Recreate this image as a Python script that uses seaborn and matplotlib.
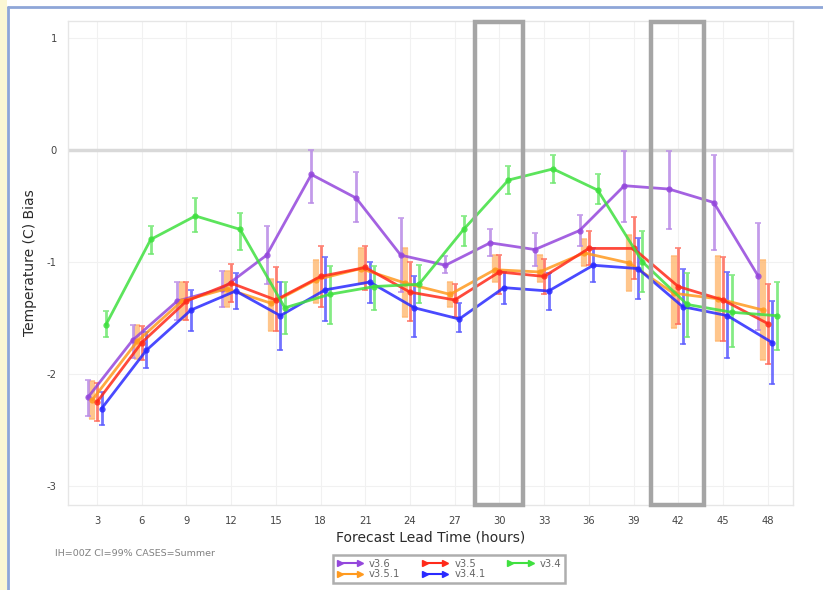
import numpy as np
import pandas as pd
import matplotlib
matplotlib.use("Agg")
import matplotlib.pyplot as plt
import seaborn as sns
from matplotlib.lines import Line2D
from matplotlib.patches import Rectangle
import matplotlib.transforms as mtransforms

leads = [3, 6, 9, 12, 15, 18, 21, 24, 27, 30, 33, 36, 39, 42, 45, 48]
series_names = ["v3.6", "v3.5.1", "v3.5", "v3.4.1", "v3.4"]

v36_mean = [-2.21, -1.70, -1.35, -1.24, -0.94, -0.22, -0.43, -0.94, -1.03, -0.83, -0.89, -0.72, -0.32, -0.35, -0.47, -1.13]
v36_lo = [-2.38, -1.86, -1.52, -1.40, -1.20, -0.47, -0.64, -1.27, -1.10, -0.95, -1.04, -0.86, -0.64, -0.71, -0.89, -1.61]
v36_hi = [-2.05, -1.56, -1.18, -1.08, -0.68, 0.00, -0.20, -0.61, -0.95, -0.71, -0.74, -0.58, -0.01, -0.01, -0.05, -0.65]

v351_mean = [-2.23, -1.71, -1.35, -1.24, -1.37, -1.16, -1.06, -1.19, -1.29, -1.07, -1.09, -0.92, -1.01, -1.28, -1.33, -1.43]
v351_lo = [-2.40, -1.87, -1.52, -1.40, -1.62, -1.37, -1.20, -1.49, -1.40, -1.18, -1.18, -1.04, -1.26, -1.59, -1.71, -1.88]
v351_hi = [-2.06, -1.56, -1.18, -1.08, -1.15, -0.98, -0.88, -0.88, -1.18, -0.94, -0.94, -0.80, -0.76, -0.95, -0.95, -0.98]

v35_mean = [-2.25, -1.72, -1.35, -1.19, -1.34, -1.13, -1.05, -1.27, -1.34, -1.09, -1.13, -0.88, -0.88, -1.22, -1.34, -1.55]
v35_lo = [-2.42, -1.88, -1.52, -1.36, -1.62, -1.40, -1.25, -1.53, -1.49, -1.29, -1.29, -1.03, -1.15, -1.55, -1.71, -1.91]
v35_hi = [-2.08, -1.57, -1.18, -1.02, -1.05, -0.86, -0.86, -1.00, -1.20, -0.94, -0.97, -0.72, -0.60, -0.88, -0.96, -1.20]

v341_mean = [-2.31, -1.79, -1.43, -1.26, -1.48, -1.25, -1.18, -1.41, -1.51, -1.23, -1.26, -1.03, -1.06, -1.40, -1.48, -1.72]
v341_lo = [-2.46, -1.95, -1.62, -1.42, -1.79, -1.53, -1.37, -1.67, -1.63, -1.38, -1.43, -1.18, -1.33, -1.73, -1.86, -2.09]
v341_hi = [-2.16, -1.63, -1.25, -1.10, -1.18, -0.96, -1.00, -1.13, -1.37, -1.09, -1.10, -0.88, -0.79, -1.06, -1.09, -1.35]

v34_mean = [-1.56, -0.80, -0.59, -0.71, -1.41, -1.29, -1.22, -1.20, -0.71, -0.27, -0.17, -0.36, -1.00, -1.38, -1.45, -1.48]
v34_lo = [-1.67, -0.93, -0.73, -0.89, -1.64, -1.55, -1.43, -1.37, -0.86, -0.39, -0.30, -0.48, -1.27, -1.67, -1.76, -1.79]
v34_hi = [-1.44, -0.68, -0.43, -0.56, -1.18, -1.04, -1.04, -1.03, -0.59, -0.14, -0.05, -0.22, -0.72, -1.10, -1.12, -1.18]

highlight_leads = [30, 42]

means = [v36_mean, v351_mean, v35_mean, v341_mean, v34_mean]
los = [v36_lo, v351_lo, v35_lo, v341_lo, v34_lo]
his = [v36_hi, v351_hi, v35_hi, v341_hi, v34_hi]

colors = {"v3.6": "#9447dc", "v3.5.1": "#ff9a1f", "v3.5": "#ff2a1a",
          "v3.4.1": "#2a2aff", "v3.4": "#3fe03f"}
err_colors = {"v3.6": "#b98ae6", "v3.5.1": "#ffb870", "v3.5": "#ff6a5a",
              "v3.4.1": "#5a5aff", "v3.4": "#70e870"}
offsets = {"v3.6": -0.62, "v3.5.1": -0.31, "v3.5": 0.0, "v3.4.1": 0.3, "v3.4": 0.6}

rows = []
for name, m, lo, hi in zip(series_names, means, los, his):
    for L, a, b, c in zip(leads, m, lo, hi):
        rows.append({"series": name, "lead": L, "x": L + offsets[name],
                     "bias": a, "lo": b, "hi": c})
df = pd.DataFrame(rows)

sns.set_theme(style="white")
plt.rcParams['font.family'] = ['DejaVu Sans']

fig = plt.figure(figsize=(8.23, 5.90), dpi=100)
ax = fig.add_axes([68/823, 1-505/590, (793-68)/823, (505-21)/590])

ax.set_xlim(1.05, 49.7)
ax.set_ylim(-3.17, 1.15)

# grid & zero line
for L in leads:
    ax.axvline(L, color="#f1f1f1", lw=0.8, zorder=0)
for yv in [-3, -2, -1, 1]:
    ax.axhline(yv, color="#f1f1f1", lw=0.8, zorder=0)
ax.axhline(0, color="#d9d9d9", lw=2.5, zorder=1)

# error bars
for name in series_names:
    sub = df[df.series == name]
    yerr = np.vstack([sub.bias - sub.lo, sub.hi - sub.bias])
    if name == "v3.5.1":
        ax.errorbar(sub.x, sub.bias, yerr=yerr, fmt="none", ecolor=err_colors[name],
                    elinewidth=4.5, capsize=2.5, capthick=1.2, alpha=0.8, zorder=2)
    else:
        ax.errorbar(sub.x, sub.bias, yerr=yerr, fmt="none", ecolor=err_colors[name],
                    elinewidth=2.0, capsize=2.5, capthick=1.2, alpha=0.85, zorder=3)

sns.lineplot(data=df, x="x", y="bias", hue="series", hue_order=series_names,
             palette=colors, marker="o", markersize=4.5, markeredgewidth=0,
             linewidth=2.0, alpha=0.85, legend=False, ax=ax, zorder=4,
             sort=True, errorbar=None)

# highlight boxes
trans = mtransforms.blended_transform_factory(ax.transData, ax.transAxes)
for hl, hw in zip(highlight_leads, [1.6, 1.75]):
    ax.add_patch(Rectangle((hl - 0.05 - hw, 0.0), 2 * hw, 0.998, transform=trans,
                           fill=False, edgecolor="#a5a5a5", lw=3.2, zorder=6,
                           clip_on=False))

ax.set_xticks(leads)
ax.set_xticklabels([str(l) for l in leads])
ax.set_yticks([-3, -2, -1, 0, 1])
ax.set_yticklabels(["-3", "-2", "-1", "0", "1"])
ax.tick_params(axis="both", labelsize=7.2, colors="#444444", direction="in",
               length=3, width=0.6, pad=8)
for s in ax.spines.values():
    s.set_color("#e6e6e6")
    s.set_linewidth(1.0)

ax.set_xlabel("Forecast Lead Time (hours)", fontsize=10, color="#2a2a2a", labelpad=3)
ax.set_ylabel("Temperature (C) Bias", fontsize=10, color="#2a2a2a", labelpad=7)

fig.text(55/823, 1-553/590, "IH=00Z CI=99% CASES=Summer", fontsize=6.8,
         color="#808080", ha="left", va="center")

handles = [Line2D([0, 1], [0, 0], color=colors[n], lw=1.5, marker=">",
                  markersize=4, markevery=[1]) for n in series_names]
leg = fig.legend(handles, series_names, loc="center",
                 bbox_to_anchor=(449/823, 1-569/590), ncol=3, fontsize=7.2,
                 frameon=True, fancybox=False, numpoints=2, handlelength=2.6,
                 handletextpad=0.6, columnspacing=2.2, labelspacing=0.05,
                 borderpad=0.35, borderaxespad=0)
leg.get_frame().set_edgecolor("#9a9a9a")
leg.get_frame().set_linewidth(1.8)
for t in leg.get_texts():
    t.set_color("#666666")

# outer frame decoration
fig.patches.append(Rectangle((0, 0), 7/823, 1, transform=fig.transFigure,
                             facecolor="#fbf7d4", edgecolor="none", zorder=0))
fig.lines.append(Line2D([8/823, 1], [1-7/590, 1-7/590], transform=fig.transFigure,
                        color="#8ea6d8", lw=2))
fig.lines.append(Line2D([8/823, 8/823], [0, 1-7/590], transform=fig.transFigure,
                        color="#8ea6d8", lw=2))

fig.savefig("out.png", dpi=100)
